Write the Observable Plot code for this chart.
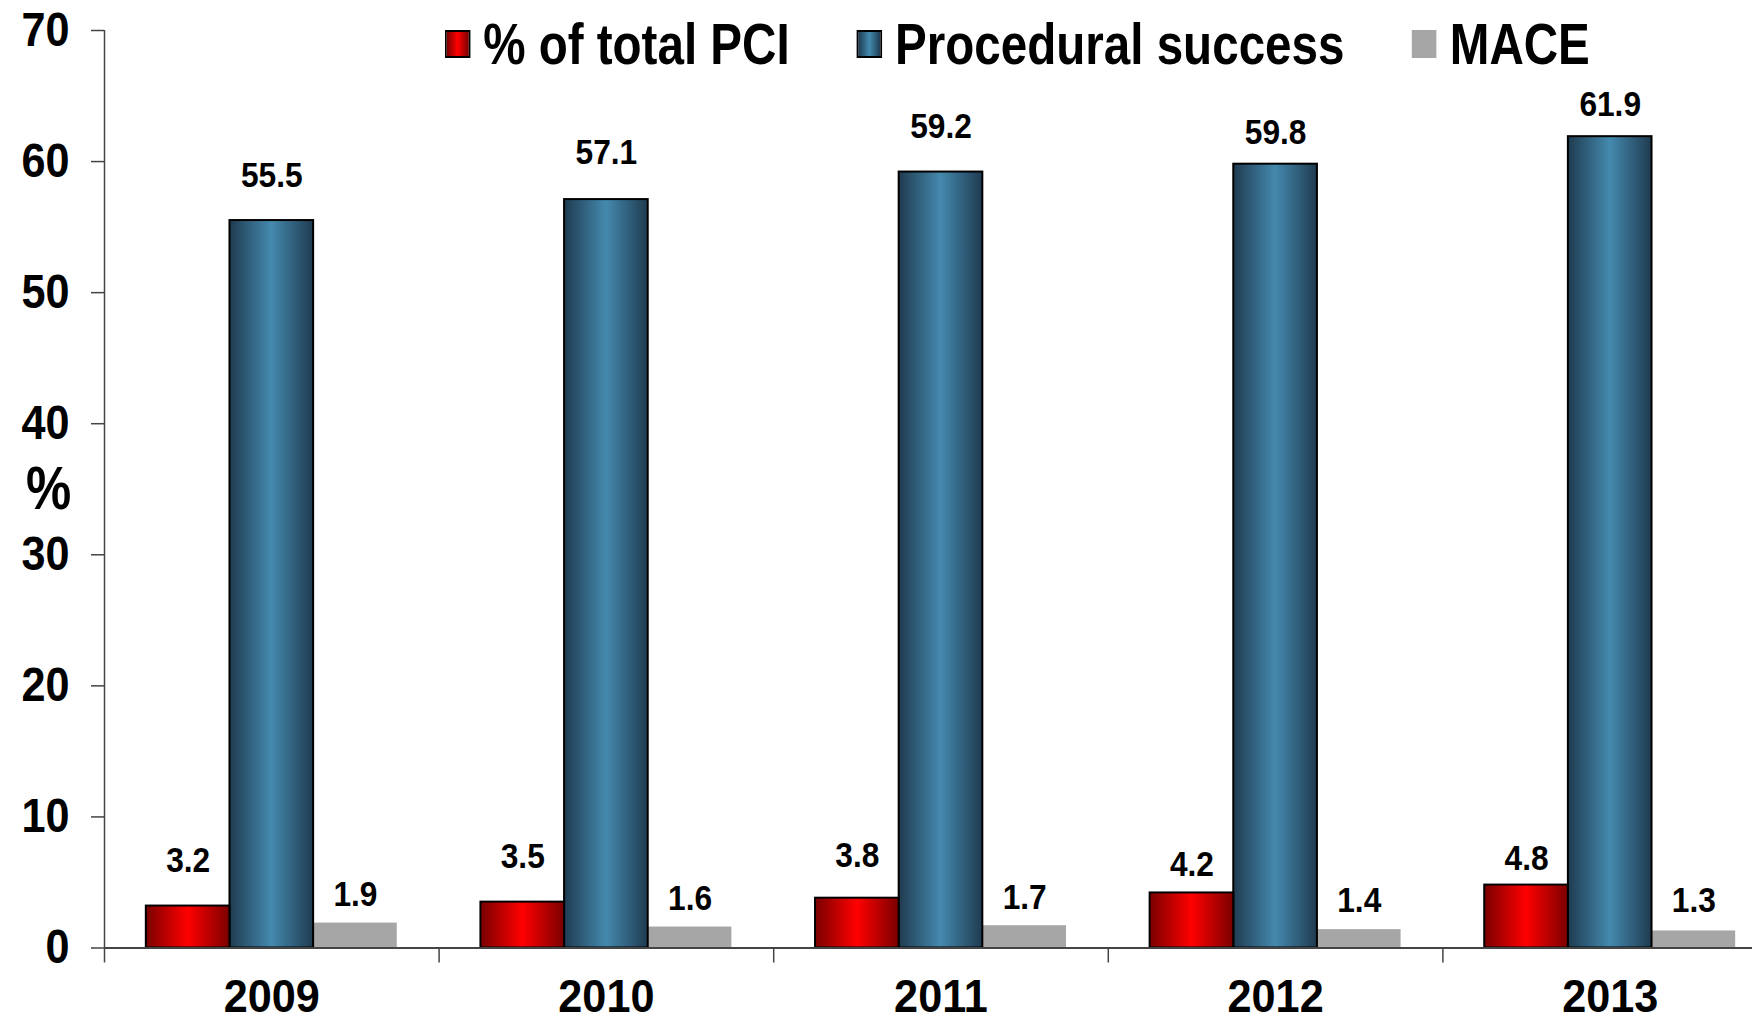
<!DOCTYPE html>
<html>
<head>
<meta charset="utf-8">
<script src="https://cdn.jsdelivr.net/npm/d3@7"></script>
<script src="https://cdn.jsdelivr.net/npm/@observablehq/plot@0.6"></script>
<style>
  html, body { margin: 0; padding: 0; background: #fff; overflow: hidden; }
  #wrap { position: relative; width: 1752px; height: 1025px; overflow: hidden; font-family: "Liberation Sans", Arial, sans-serif; }
  /* legend drawn in a regular bold sans and narrowed horizontally (sizes below are pre-divided by 0.82) */
  #legend { position: absolute; left: 445px; top: 10px; display: flex; align-items: center; font-weight: bold; font-size: 58px; color: #000; white-space: nowrap; transform: scaleX(0.82); transform-origin: 0 0; }
  .item { display: flex; align-items: center; margin-right: 82px; }
  .sw { width: 30.5px; height: 28px; margin-right: 16px; box-sizing: border-box; }
  .sw.red { background: linear-gradient(to right, #7a0000, #ff0000 50%, #7a0000); border: 2px solid #000; border-left-width: 2.4px; border-right-width: 2.4px; }
  .sw.blue { background: linear-gradient(to right, #1f3b50, #4489ae 50%, #1f3b50); border: 2px solid #000; border-left-width: 2.4px; border-right-width: 2.4px; }
  .sw.gray { background: #a6a6a6; }
</style>
</head>
<body>
<div id="wrap">
  <div id="chart"></div>
  <div id="legend"></div>
</div>
<script>
// ---- data ----
const years = ["2009", "2010", "2011", "2012", "2013"];
const pciShare = [3.2, 3.5, 3.8, 4.2, 4.8];
const proceduralSuccess = [55.5, 57.1, 59.2, 59.8, 61.9];
const mace = [1.9, 1.6, 1.7, 1.4, 1.3];
const seriesNames = ["% of total PCI", "Procedural success", "MACE"];
const yTicks = [0, 10, 20, 30, 40, 50, 60, 70];
const yLabel = "%";

// ---- label styling: how far each value label sits above its bar (px) ----
const labelLiftPci = [46, 46, 43, 28, 27];
const labelLiftSuccess = [45, 47, 46, 32, 32];
const labelLiftMace = [29, 29, 28, 29, 30];

// ---- build rows ----
const seriesValues = [pciShare, proceduralSuccess, mace];
const lifts = [labelLiftPci, labelLiftSuccess, labelLiftMace];
const rows = seriesValues.map((vals, s) => years.map((year, i) => ({ year, i, s, value: vals[i] })));
const allRows = rows.flat();

// bar slot within each year band: 3 bars of 1/4 band, 1/8 band padding each side
const x1 = d => d.i + 0.125 + d.s * 0.25;
const x2 = d => d.i + 0.125 + (d.s + 1) * 0.25;
const xc = d => d.i + 0.125 + (d.s + 0.5) * 0.25;

const boundaries = years.map((y, i) => i).concat([years.length]);
const centers = years.map((y, i) => i + 0.5);

const labelMarks = allRows.map(d =>
  Plot.text([d], { x: xc, y: "value", text: r => r.value.toFixed(1), dy: -lifts[d.s][d.i], fontSize: 36, fontWeight: "bold", fill: "#000" })
);

const chart = Plot.plot({
  width: 1752,
  height: 1025,
  marginTop: 30,
  marginBottom: 77.5,
  marginLeft: 104,
  marginRight: 0,
  style: { fontFamily: "'Liberation Sans', Arial, sans-serif", background: "#fff", color: "#000" },
  x: { type: "linear", domain: [0, years.length], range: [104, 1777] },
  y: { domain: [0, 70] },
  marks: [
    Plot.rectY(rows[2], { x1, x2, y1: 0, y2: "value", fill: "#a6a6a6" }),
    Plot.rectY(rows[1], { x1, x2, y1: 0, y2: "value", fill: "url(#gBlue)", stroke: "#000", strokeWidth: 2 }),
    Plot.rectY(rows[0], { x1, x2, y1: 0, y2: "value", fill: "url(#gRed)", stroke: "#000", strokeWidth: 2 }),
    ...labelMarks,
    Plot.ruleY([0], { stroke: "#444", strokeWidth: 2 }),
    Plot.ruleX([0], { y1: 0, y2: 70, stroke: "#444", strokeWidth: 1.5 }),
    Plot.axisY(yTicks, { tickSize: 13, tickPadding: 22, fontSize: 48, fontWeight: "bold", stroke: "#444", strokeWidth: 1.5, label: null }),
    Plot.axisX(boundaries, { tickSize: 15, tickFormat: () => "", stroke: "#444", strokeWidth: 1.5, label: null }),
    Plot.axisX(centers, { tickSize: 0, tickPadding: 31, tickFormat: d => years[d - 0.5], fontSize: 47, fontWeight: "bold", label: null }),
    Plot.text([yLabel], { frameAnchor: "left", text: d => d, textAnchor: "middle", dx: -56, fontSize: 62, fontWeight: "bold", fill: "#000" })
  ]
});

// narrow the chart texts horizontally around their anchor point (condensed bold look)
function narrowFor(t) {
  const g = t.closest("g[aria-label]");
  const role = g ? g.getAttribute("aria-label") : "";
  if (role === "y-axis tick label") return 0.9;
  if (role === "x-axis tick label") return 0.92;
  if (t.textContent === yLabel) return 0.82;
  return 0.88;
}
chart.querySelectorAll("text").forEach(t => {
  const k = narrowFor(t);
  if (t.hasAttribute("x")) t.setAttribute("x", (+t.getAttribute("x")) / k);
  const tr = t.getAttribute("transform");
  t.setAttribute("transform", (tr ? tr + " " : "") + `scale(${k},1)`);
});

// gradients
const defs = d3.select(chart).insert("defs", ":first-child");
function grad(id, edge, mid) {
  const g = defs.append("linearGradient").attr("id", id).attr("x1", 0).attr("x2", 1).attr("y1", 0).attr("y2", 0);
  g.append("stop").attr("offset", "0%").attr("stop-color", edge);
  g.append("stop").attr("offset", "50%").attr("stop-color", mid);
  g.append("stop").attr("offset", "100%").attr("stop-color", edge);
}
grad("gRed", "#7a0000", "#ff0000");
grad("gBlue", "#1f3b50", "#4489ae");

document.getElementById("chart").appendChild(chart);

// legend
const swClasses = ["red", "blue", "gray"];
const legend = d3.select("#legend");
seriesNames.forEach((name, k) => {
  const it = legend.append("div").attr("class", "item");
  it.append("div").attr("class", "sw " + swClasses[k]);
  it.append("span").text(name);
});
</script>
</body>
</html>
